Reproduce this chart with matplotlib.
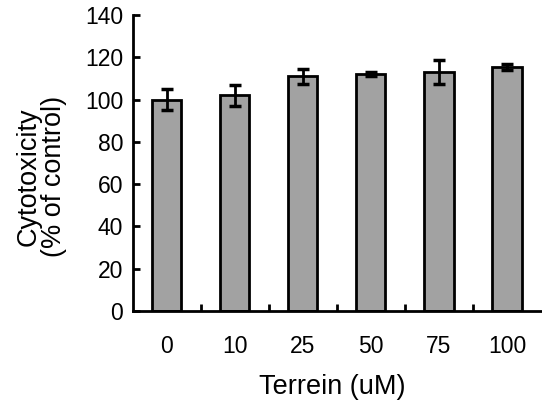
import numpy as np
import matplotlib
matplotlib.use('Agg')
import matplotlib.pyplot as plt

plt.rcParams['font.family'] = ['Liberation Sans', 'DejaVu Sans']

# data
doses = ['0', '10', '25', '50', '75', '100']
cytotox = [100, 102, 111, 112, 113, 115.5]
errors = [5, 5, 3.5, 1, 5.5, 1.5]

fig = plt.figure(figsize=(5.42, 4.03), dpi=100)
ax = fig.add_axes([0.245, 0.228, 0.753, 0.735])

x = np.arange(len(doses))
ax.bar(x, cytotox, width=0.43, color='#a2a2a2', edgecolor='black',
       linewidth=2, zorder=2)
ax.errorbar(x, cytotox, yerr=errors, fmt='none', ecolor='black',
            elinewidth=2, capsize=4.5, capthick=2.5, zorder=3)

ax.set_xlim(-0.5, len(doses) - 0.5)
ax.set_ylim(0, 140)
ax.set_yticks(np.arange(0, 141, 20))

# category labels centred under bars, ticks at boundaries
ax.set_xticks(x)
ax.set_xticklabels(doses)
ax.set_xticks(np.arange(0.5, len(doses) - 0.5, 1), minor=True)
ax.tick_params(axis='x', which='major', length=0, pad=17, labelsize=16.5)
ax.tick_params(axis='x', which='minor', direction='in', length=5, width=2)
ax.tick_params(axis='y', direction='in', length=5, width=2, pad=7,
               labelsize=16.5)

for side in ['top', 'right']:
    ax.spines[side].set_visible(False)
for side in ['left', 'bottom']:
    ax.spines[side].set_linewidth(2)

ax.set_xlabel('Terrein (uM)', fontsize=19.5)
ax.xaxis.set_label_coords(0.488, -0.213)
ax.set_ylabel('Cytotoxicity\n(% of control)', fontsize=19.5, linespacing=1.0)
ax.yaxis.set_label_coords(-0.16, 0.453)

fig.savefig('out.png', dpi=100)
